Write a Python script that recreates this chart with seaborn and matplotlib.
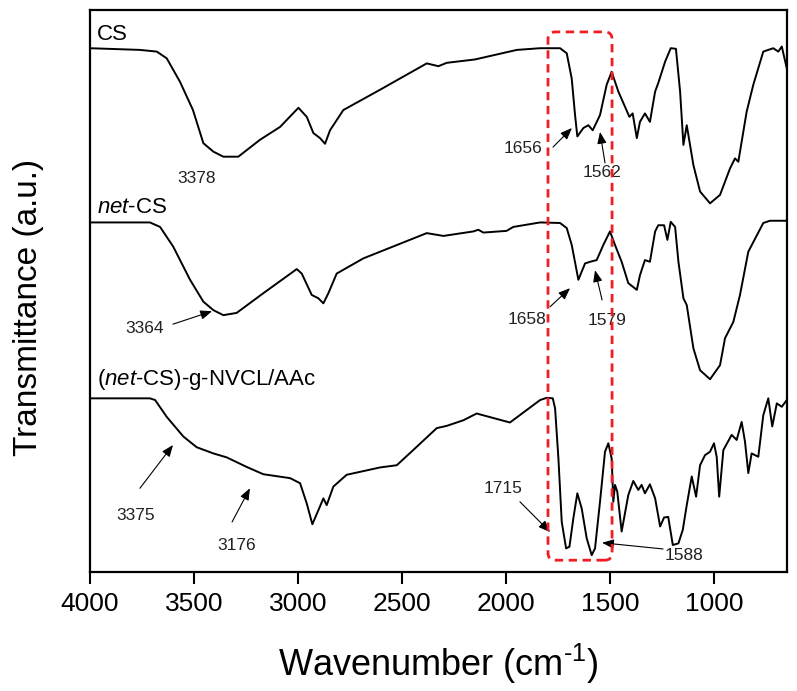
import matplotlib
matplotlib.use("Agg")
import matplotlib.pyplot as plt
import seaborn as sns
import pandas as pd
from matplotlib.patches import FancyBboxPatch

# ---------------- data ----------------
cs_wn = [4000, 3760, 3679, 3631, 3567, 3505, 3455, 3407, 3359, 3287, 3183, 3086, 2998, 2958,
         2926, 2894, 2870, 2846, 2782, 2606, 2381, 2325, 2285, 2149, 1948, 1836, 1740, 1708,
         1684, 1668, 1657, 1628, 1604, 1583, 1548, 1516, 1492, 1460, 1428, 1407, 1391, 1371,
         1356, 1332, 1308, 1283, 1268, 1235, 1208, 1183, 1163, 1147, 1131, 1099, 1067, 1019,
         971, 923, 899, 883, 843, 811, 763, 715, 691, 674, 650]
cs_t = [93.2, 92.9, 92.6, 91.4, 87.2, 82.2, 76.3, 74.8, 73.9, 73.9, 76.9, 79.2, 82.6, 81.0,
        78.1, 77.2, 76.2, 78.6, 82.2, 85.8, 90.5, 90.0, 90.6, 91.2, 92.9, 93.2, 93.2, 92.3,
        87.8, 81.3, 77.5, 79.0, 79.5, 78.6, 81.3, 86.7, 89.0, 85.5, 82.8, 81.0, 81.6, 77.2,
        80.1, 81.6, 80.1, 85.5, 87.0, 90.8, 93.2, 93.1, 85.5, 76.0, 79.5, 72.4, 67.7, 65.6,
        67.1, 71.8, 73.6, 73.0, 81.9, 86.7, 92.6, 93.2, 92.6, 93.5, 89.6]

net_wn = [4000, 3712, 3663, 3600, 3519, 3455, 3407, 3359, 3295, 3167, 3006, 2982, 2934, 2902,
          2878, 2854, 2814, 2686, 2381, 2301, 2157, 2133, 2109, 1997, 1965, 1836, 1740, 1708,
          1684, 1652, 1620, 1596, 1564, 1532, 1500, 1476, 1444, 1412, 1371, 1356, 1332, 1308,
          1283, 1268, 1240, 1224, 1208, 1187, 1171, 1147, 1131, 1099, 1067, 1019, 971, 947,
          907, 875, 835, 763, 731, 649]
net_t = [62.2, 62.2, 61.4, 57.9, 52.0, 48.1, 46.6, 45.7, 46.1, 49.6, 53.9, 53.1, 49.3, 48.7,
         47.8, 49.6, 53.1, 55.8, 60.3, 59.8, 60.6, 60.9, 60.4, 60.7, 61.4, 62.2, 62.1, 61.2,
         58.2, 52.0, 54.9, 55.2, 55.5, 58.2, 60.6, 58.2, 55.2, 51.4, 50.2, 52.8, 55.5, 55.2,
         60.6, 61.7, 61.7, 59.1, 62.3, 61.4, 55.2, 48.7, 47.5, 39.8, 35.9, 34.3, 36.8, 41.6,
         44.5, 49.3, 57.0, 62.1, 62.5, 62.5]

graft_wn = [4000, 3712, 3687, 3631, 3551, 3487, 3407, 3343, 3247, 3167, 3038, 2990, 2958, 2931,
            2902, 2878, 2862, 2830, 2766, 2606, 2525, 2446, 2333, 2285, 2205, 2141, 1981, 1836,
            1804, 1775, 1764, 1748, 1732, 1711, 1695, 1676, 1657, 1636, 1612, 1588, 1572, 1548,
            1524, 1508, 1492, 1484, 1476, 1465, 1444, 1412, 1388, 1364, 1348, 1332, 1308, 1283,
            1259, 1240, 1220, 1198, 1171, 1150, 1131, 1107, 1086, 1067, 1043, 1019, 1000, 987,
            975, 955, 915, 891, 867, 851, 835, 819, 787, 763, 739, 720, 698, 674, 650]
graft_t = [30.9, 30.9, 30.6, 27.6, 24.1, 22.2, 21.1, 20.4, 18.7, 17.4, 16.7, 15.8, 12.2, 8.5,
           11.0, 13.1, 11.9, 15.2, 17.3, 18.6, 19.0, 21.7, 25.6, 26.0, 27.0, 28.2, 26.6, 30.6,
           31.0, 30.9, 29.1, 20.2, 8.9, 4.2, 4.5, 9.6, 14.0, 11.3, 6.0, 3.0, 4.2, 12.5,
           21.4, 22.9, 20.2, 12.5, 15.5, 14.3, 7.2, 13.7, 16.2, 14.6, 15.5, 14.0, 15.6, 13.1,
           8.1, 9.7, 9.8, 4.8, 5.1, 7.5, 11.9, 17.0, 13.4, 19.0, 20.8, 21.4, 22.9, 20.5,
           13.4, 21.7, 24.4, 23.5, 26.7, 23.2, 17.6, 21.1, 20.5, 27.9, 30.9, 25.9, 30.0, 29.4, 30.6]

series_names = ["CS", "net-CS", "(net-CS)-g-NVCL/AAc"]
series_labels = [r"CS", r"$\mathit{net}$-CS", r"($\mathit{net}$-CS)-g-NVCL/AAc"]
x_ticks = [4000, 3500, 3000, 2500, 2000, 1500, 1000]

# ---------------- style ----------------
sns.set_style("ticks")
plt.rcParams["font.family"] = ["Liberation Sans", "DejaVu Sans"]
plt.rcParams["mathtext.fontset"] = "custom"
plt.rcParams["mathtext.rm"] = "Liberation Sans"
plt.rcParams["mathtext.it"] = "Liberation Sans:italic"
plt.rcParams["mathtext.bf"] = "Liberation Sans:bold"
plt.rcParams["text.color"] = "black"
plt.rcParams["axes.labelcolor"] = "black"

df = pd.concat([
    pd.DataFrame({"wn": cs_wn, "T": cs_t, "sample": series_names[0]}),
    pd.DataFrame({"wn": net_wn, "T": net_t, "sample": series_names[1]}),
    pd.DataFrame({"wn": graft_wn, "T": graft_t, "sample": series_names[2]}),
])

fig = plt.figure(figsize=(7.97, 6.91), dpi=100)
ax = fig.add_axes([90 / 797, 1 - 572 / 691, 697 / 797, 562 / 691])

for name in series_names:
    sub = df[df["sample"] == name]
    sns.lineplot(data=sub, x="wn", y="T", ax=ax, color="black", lw=1.4,
                 sort=False, estimator=None, legend=False)

ax.set_xlim(4000, 649)
ax.set_ylim(0, 100)
ax.set_xticks(x_ticks)
ax.set_xticklabels([str(v) for v in x_ticks])
ax.set_yticks([])
for sp in ax.spines.values():
    sp.set_visible(True)
    sp.set_linewidth(1.6)
    sp.set_color("black")
ax.tick_params(axis="x", direction="out", length=8.5, width=1.5, labelsize=19, pad=6,
               colors="black")

ax.set_xlabel(r"Wavenumber (cm$^{\text{-1}}$)", fontsize=26, color="black")
ax.set_ylabel("Transmittance (a.u.)", fontsize=24, color="black")
ax.xaxis.set_label_coords(0.5, -0.125)
ax.yaxis.set_label_coords(-0.066, 0.47)

# series labels
label_pos = [(3966, 95.7), (3966, 64.9), (3966, 34.2)]
for lab, (x, y) in zip(series_labels, label_pos):
    ax.text(x, y, lab, fontsize=16, ha="left", va="center", color="black")

# peak annotations
arrow_kw = dict(arrowstyle="-|>,head_length=0.7,head_width=0.28", color="black", lw=0.8,
                shrinkA=0, shrinkB=0)
ax.text(3486, 70.1, "3378", fontsize=12.5, ha="center", va="center", color="#222222")
annots = [
    ("1656", (1918, 75.4), (1774, 75.6), (1683, 79.0)),
    ("1562", (1538, 71.1), (1524, 72.8), (1548, 78.3)),
    ("3364", (3736, 43.4), (3601, 44.1), (3413, 46.4)),
    ("1658", (1899, 45.0), (1788, 47.2), (1692, 50.5)),
    ("1579", (1514, 44.8), (1538, 48.4), (1572, 53.7)),
    ("3375", (3779, 10.0), (3760, 14.9), (3601, 22.6)),
    ("3176", (3293, 4.8), (3317, 8.9), (3231, 14.9)),
    ("1715", (2014, 14.9), (1933, 12.5), (1788, 7.1)),
    ("1588", (1144, 3.0), (1245, 4.1), (1538, 5.2)),
]
for txt, tpos, tail, head in annots:
    ax.text(tpos[0], tpos[1], txt, fontsize=12.5, ha="center", va="center", color="#222222")
    ax.annotate("", xy=head, xytext=tail, arrowprops=arrow_kw)

# red dashed highlight box (rounded corners)
box = FancyBboxPatch((1490, 2.1), 1798 - 1490, 96.1 - 2.1,
                     boxstyle="round,pad=0,rounding_size=35", mutation_aspect=0.037,
                     fill=False, edgecolor="#f01e23", lw=2.0, linestyle=(0, (3, 2)), zorder=5)
ax.add_patch(box)

fig.savefig("out.png", dpi=100)
